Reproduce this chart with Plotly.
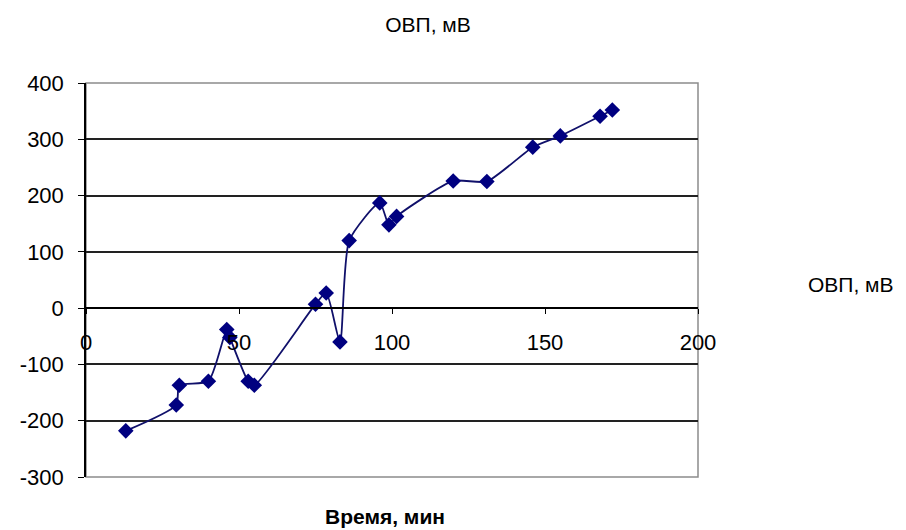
import plotly.graph_objects as go

# Data
time_min = [13, 29.5, 30.5, 40, 46, 47, 53, 55, 75, 78.5, 83, 86, 96, 99, 101.5, 120, 131, 146, 155, 168, 172]
orp_mv = [-218, -172, -137, -130, -38, -52, -130, -137, 7, 27, -60, 120, 187, 148, 163, 226, 225, 286, 306, 341, 352]

x_ticks = [0, 50, 100, 150, 200]
y_ticks = [-300, -200, -100, 0, 100, 200, 300, 400]
y_tick_labels = ["-300", "-200", "-100", "0", "100", "200", "300", "400"]

series_name = "ОВП, мВ"
title_text = "ОВП, мВ"
x_title = "Время, мин"

FONT = "Liberation Sans, Arial, sans-serif"

# The page body adds an 8px offset; compensate in the figure size/margins
W, H = 898, 522
L, T = 71, 75
PW, PH = 619, 394

fig = go.Figure()
fig.add_trace(go.Scatter(
    x=time_min, y=orp_mv, name=series_name,
    mode="lines+markers",
    line=dict(color="#10106a", width=1.8, shape="spline", smoothing=0.6),
    marker=dict(symbol="diamond", size=12, color="#000080"),
    showlegend=False,
))

y_min, y_max = -300, 400
zero_pos = (0 - y_min) / (y_max - y_min)

fig.update_layout(
    width=W, height=H,
    margin=dict(l=L, r=W - L - PW, t=T, b=H - T - PH),
    paper_bgcolor="white", plot_bgcolor="white",
    font=dict(family=FONT, size=21, color="black"),
    title=dict(text=title_text, x=(428 - 8) / W, xanchor="center",
               y=1 - (25 - 8) / H, yanchor="middle",
               font=dict(size=21, family=FONT)),
    xaxis=dict(
        range=[0, 200], tickvals=x_ticks, ticktext=[str(v) for v in x_ticks],
        anchor="free", position=zero_pos,
        showgrid=False, zeroline=False,
        showline=True, linecolor="black", linewidth=1.5,
        ticks="outside", ticklen=5, tickcolor="black", tickwidth=1.2,
        ticklabelstandoff=10,
        tickfont=dict(size=22, family=FONT),
    ),
    yaxis=dict(
        range=[y_min, y_max], tickvals=y_ticks, ticktext=y_tick_labels,
        showgrid=True, gridcolor="#222222", gridwidth=1.5,
        zeroline=False,
        showline=True, linecolor="black", linewidth=1.5,
        ticks="outside", ticklen=6, tickcolor="black", tickwidth=1.2,
        ticklabelstandoff=10,
        tickfont=dict(size=22, family=FONT),
    ),
    shapes=[dict(type="rect", xref="paper", yref="paper", x0=0, x1=1, y0=0, y1=1,
                 line=dict(color="#8c8c8c", width=1.5), layer="below")],
    annotations=[
        dict(text="<b>" + x_title + "</b>", xref="paper", yref="paper",
             x=(381 - 79) / PW, y=-(516 - 477) / PH,
             xanchor="center", yanchor="middle", showarrow=False,
             font=dict(size=21, family=FONT, color="black")),
        dict(text=series_name, xref="paper", yref="paper", x=(853 - 79) / PW,
             y=(477 - 284) / PH, xanchor="center", yanchor="middle", showarrow=False,
             font=dict(size=21, family=FONT, color="black")),
    ],
)

fig.write_html("out.html")
